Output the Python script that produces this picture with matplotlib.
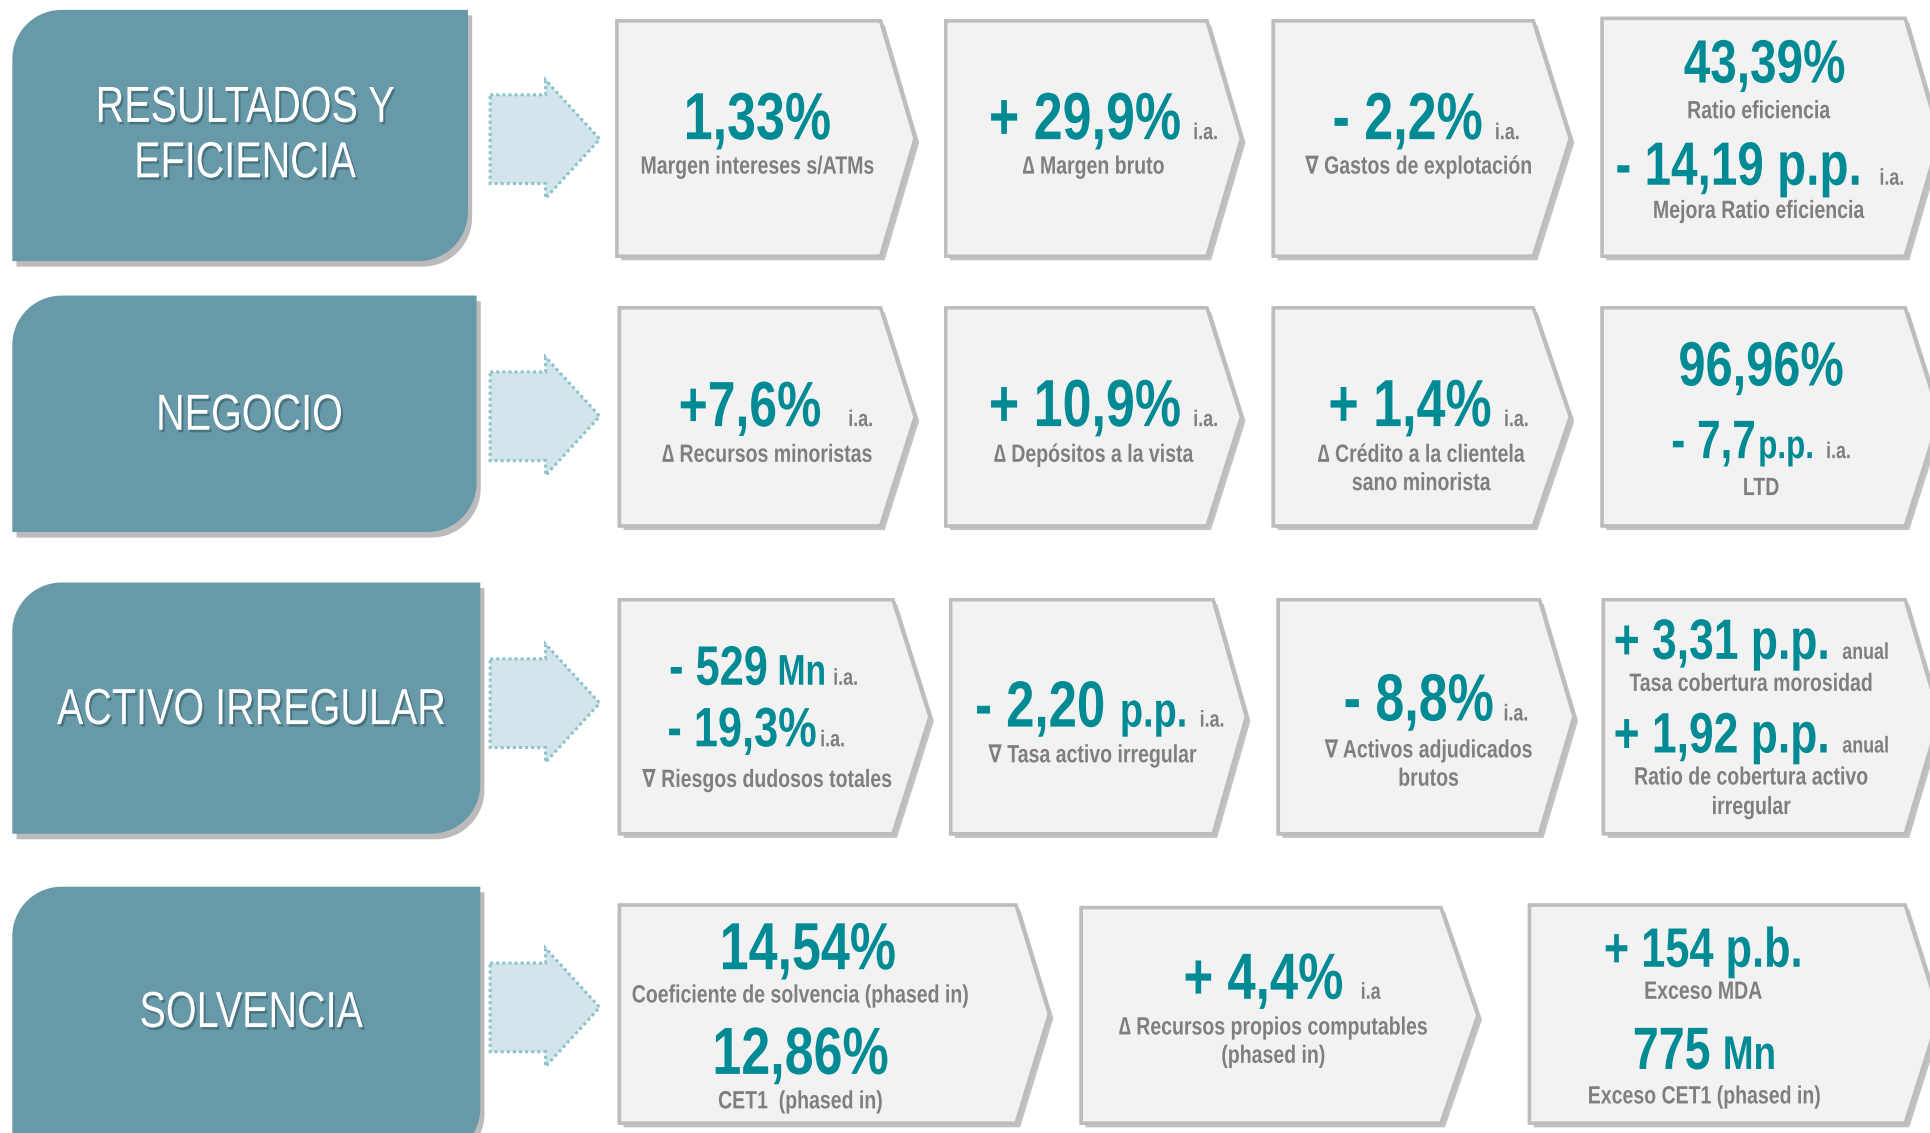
import matplotlib
matplotlib.use("Agg")
import numpy as np
import matplotlib.pyplot as plt
from matplotlib.patches import Polygon
from matplotlib.transforms import Affine2D, Bbox
from matplotlib.colors import to_rgba
import matplotlib.patheffects as pe

# ---- data -------------------------------------------------------------
titles = ["RESULTADOS Y\nEFICIENCIA", "NEGOCIO", "ACTIVO IRREGULAR", "SOLVENCIA"]

res_values = ["1,33%", "+ 29,9%", "- 2,2%", "43,39%", "- 14,19 p.p."]
res_labels = ["Margen intereses s/ATMs", "\u2206 Margen bruto", "\u2207 Gastos de explotación",
              "Ratio eficiencia", "Mejora Ratio eficiencia"]

neg_values = ["+7,6%", "+ 10,9%", "+ 1,4%", "96,96%", "- 7,7"]
neg_labels = ["\u2206 Recursos minoristas", "\u2206 Depósitos a la vista",
              "\u2206 Crédito a la clientela", "sano minorista", "LTD"]

act_values = ["- 529", "- 19,3%", "- 2,20", "- 8,8%", "+ 3,31 p.p.", "+ 1,92 p.p."]
act_labels = ["\u2207 Riesgos dudosos totales", "\u2207 Tasa activo irregular",
              "\u2207 Activos adjudicados", "brutos", "Tasa cobertura morosidad",
              "Ratio de cobertura activo", "irregular"]

sol_values = ["14,54%", "12,86%", "+ 4,4%", "+ 154 p.b.", "775"]
sol_labels = ["Coeficiente de solvencia (phased in)", "CET1  (phased in)",
              "\u2206 Recursos propios computables", "(phased in)", "Exceso MDA",
              "Exceso CET1 (phased in)"]

# ---- style ------------------------------------------------------------
TEAL = "#008A94"
GRAY = "#7F7F7F"
TAB = "#6799A8"
CARD = "#F2F2F2"
EDGE = "#BDBDBD"
FONT = ["Liberation Sans", "DejaVu Sans"]
SX = 0.78  # horizontal squeeze -> narrow look (no narrow font installed)

W, H = 1568, 920
fig = plt.figure(figsize=(19.31, 11.33), dpi=100)
ax = fig.add_axes([0, 0, 1, 1])
ax.set_xlim(0, W)
ax.set_ylim(H, 0)
ax.axis("off")
rend = fig.canvas.get_renderer()
px_per_unit = 1931 / W


class Squeeze(pe.AbstractPathEffect):
    """Draw text squeezed horizontally around x0 (display px), optional shadow."""

    def __init__(self, x0, sx=SX, shadow=None):
        super().__init__()
        self.x0 = x0
        self.sx = sx
        self.shadow = shadow

    def draw_path(self, renderer, gc, tpath, affine, rgbFace=None):
        aff = affine + Affine2D().translate(-self.x0, 0).scale(self.sx, 1).translate(self.x0, 0)
        if self.shadow is not None:
            col, alpha, dx, dy = self.shadow
            gc0 = renderer.new_gc()
            gc0.copy_properties(gc)
            gc0.set_foreground(col)
            gc0.set_alpha(alpha)
            rgba = to_rgba(col, alpha)
            renderer.draw_path(gc0, tpath, aff + Affine2D().translate(dx, dy), rgba)
            gc0.restore()
        renderer.draw_path(gc, tpath, aff, rgbFace)


def squeeze_text(t, x0):
    # narrow glyphs + matching extent
    t.set_path_effects([Squeeze(x0, shadow=getattr(t, "_shadow", None))])
    orig = t.get_window_extent

    def ext(renderer=None, dpi=None):
        bb = orig(renderer, dpi)
        return Bbox([[x0 + (bb.x0 - x0) * SX, bb.y0], [x0 + (bb.x1 - x0) * SX, bb.y1]])
    t.get_window_extent = ext


def xpix(x):
    return ax.transData.transform((x, 0))[0]


def tab(x0, y0, x1, y1, r=40):
    t1 = np.linspace(np.pi, 1.5 * np.pi, 20)
    t2 = np.linspace(0, 0.5 * np.pi, 20)
    pts = [(x0 + r + r * np.cos(t), y0 + r + r * np.sin(t)) for t in t1]
    pts += [(x1, y0)]
    pts += [(x1 - r + r * np.cos(t), y1 - r + r * np.sin(t)) for t in t2]
    pts += [(x0, y1)]
    p = Polygon(pts, closed=True, fc=TAB, ec="none", zorder=2,
                path_effects=[pe.withSimplePatchShadow(offset=(3, -4), shadow_rgbFace="#555555", alpha=0.4)])
    ax.add_patch(p)


def arrow(c):
    pts = [(398, c - 36), (443, c - 36), (443, c - 48), (487, c), (443, c + 48), (443, c + 36), (398, c + 36)]
    ax.add_patch(Polygon(pts, closed=True, fc="#D3E5EA", ec="#8CC4CC", lw=2.2, ls=(0, (1, 1)), zorder=2))


def card(x0, x1, xt, y0, y1):
    ym = (y0 + y1) / 2
    pts = [(x0, y0), (x1, y0), (xt, ym), (x1, y1), (x0, y1)]
    ax.add_patch(Polygon(pts, closed=True, fc=CARD, ec=EDGE, lw=2.5, zorder=2, joinstyle="miter",
                         path_effects=[pe.withSimplePatchShadow(offset=(3, -3), shadow_rgbFace="#9a9a9a", alpha=0.6),
                                       pe.Normal()]))


def line(cx, base, runs):
    # runs: (text, size, color, gap_before)
    objs, widths = [], []
    for txt, size, col, gap in runs:
        t = ax.text(0, base, txt, fontsize=size, color=col, fontweight="bold", family=FONT,
                    ha="left", va="baseline", zorder=5)
        objs.append(t)
        widths.append(t.get_window_extent(rend).width / px_per_unit * SX)
    total = sum(widths) + sum(r[3] for r in runs)
    x = cx - total / 2
    for t, w, r in zip(objs, widths, runs):
        x += r[3]
        t.set_x(x)
        squeeze_text(t, xpix(x))
        x += w


BIG = 48
LAB = 18
IA = 16.5

# ---- left tabs and arrows --------------------------------------------
tab_boxes = [(10, 8, 380, 212), (10, 240, 387, 432), (10, 473, 390, 677), (10, 720, 390, 940)]
arrow_c = [113, 338, 571, 818]
title_y = [(88, 133), (338,), (577,), (823,)]
for (x0, y0, x1, y1), c, ty, ttl in zip(tab_boxes, arrow_c, title_y, titles):
    tab(x0, y0, x1, y1)
    arrow(c)
    cx = (x0 + x1) / 2 + 4
    for yy, part in zip(ty, ttl.split("\n")):
        t = ax.text(cx, yy, part, fontsize=36.5, color="white", family=FONT, ha="center", va="center",
                    zorder=5)
        t._shadow = ("#2f5560", 0.55, 2, -2.5)
        squeeze_text(t, xpix(cx))

# ---- cards -------------------------------------------------------------
for shape in [(501, 715, 743, 17, 208), (768, 980, 1008, 17, 208), (1034, 1245, 1275, 17, 208),
              (1301, 1547, 1575, 15, 208),
              (503, 715, 743, 250, 427), (768, 980, 1008, 250, 427), (1034, 1245, 1275, 250, 427),
              (1301, 1547, 1575, 250, 427),
              (503, 725, 755, 487, 677), (772, 985, 1012, 487, 677), (1038, 1250, 1278, 487, 677),
              (1302, 1547, 1575, 487, 677),
              (503, 825, 852, 735, 912), (878, 1170, 1200, 737, 912), (1242, 1547, 1575, 735, 912)]:
    card(*shape)

# row 1
line(615, 113, [(res_values[0], BIG, TEAL, 0)])
line(615, 141, [(res_labels[0], LAB, GRAY, 0)])
line(896, 113, [(res_values[1], BIG, TEAL, 0), ("i.a.", IA, GRAY, 10)])
line(888, 141, [(res_labels[1], LAB, GRAY, 0)])
line(1158, 113, [(res_values[2], BIG, TEAL, 0), ("i.a.", IA, GRAY, 10)])
line(1152, 141, [(res_labels[2], LAB, GRAY, 0)])
line(1433, 67, [(res_values[3], 44, TEAL, 0)])
line(1428, 96, [(res_labels[3], LAB, GRAY, 0)])
line(1429, 150, [(res_values[4], 44, TEAL, 0), ("i.a.", IA, GRAY, 14)])
line(1428, 177, [(res_labels[4], LAB, GRAY, 0)])

# row 2
line(630, 346, [(neg_values[0], 46, TEAL, 0), ("i.a.", IA, GRAY, 22)])
line(623, 375, [(neg_labels[0], LAB, GRAY, 0)])
line(896, 346, [(neg_values[1], BIG, TEAL, 0), ("i.a.", IA, GRAY, 10)])
line(888, 375, [(neg_labels[1], LAB, GRAY, 0)])
line(1160, 346, [(neg_values[2], BIG, TEAL, 0), ("i.a.", IA, GRAY, 10)])
line(1154, 375, [(neg_labels[2], LAB, GRAY, 0)])
line(1154, 398, [(neg_labels[3], LAB, GRAY, 0)])
line(1430, 313, [(neg_values[3], 45, TEAL, 0)])
line(1430, 372, [(neg_values[4], 39, TEAL, 0), ("p.p.", 29, TEAL, 2), ("i.a.", IA, GRAY, 10)])
line(1430, 402, [(neg_labels[4], LAB, GRAY, 0)])

# row 3
line(620, 556, [(act_values[0], 40, TEAL, 0), ("Mn", 31, TEAL, 8), ("i.a.", IA, GRAY, 6)])
line(614, 606, [(act_values[1], 40, TEAL, 0), ("i.a.", IA, GRAY, 3)])
line(623, 639, [(act_labels[0], LAB, GRAY, 0)])
line(893, 590, [(act_values[2], 47, TEAL, 0), ("p.p.", 35, TEAL, 12), ("i.a.", IA, GRAY, 10)])
line(887, 619, [(act_labels[1], LAB, GRAY, 0)])
line(1166, 585, [(act_values[3], BIG, TEAL, 0), ("i.a.", IA, GRAY, 8)])
line(1160, 615, [(act_labels[2], LAB, GRAY, 0)])
line(1160, 638, [(act_labels[3], LAB, GRAY, 0)])
line(1422, 535, [(act_values[4], 41, TEAL, 0), ("anual", IA, GRAY, 10)])
line(1422, 561, [(act_labels[4], LAB, GRAY, 0)])
line(1422, 611, [(act_values[5], 41, TEAL, 0), ("anual", IA, GRAY, 10)])
line(1422, 637, [(act_labels[5], LAB, GRAY, 0)])
line(1422, 661, [(act_labels[6], LAB, GRAY, 0)])

# row 4
line(656, 787, [(sol_values[0], BIG, TEAL, 0)])
line(650, 814, [(sol_labels[0], LAB, GRAY, 0)])
line(650, 872, [(sol_values[1], BIG, TEAL, 0)])
line(650, 900, [(sol_labels[1], LAB, GRAY, 0)])
line(1041, 811, [(sol_values[2], 47, TEAL, 0), ("i.a", IA, GRAY, 14)])
line(1034, 840, [(sol_labels[2], LAB, GRAY, 0)])
line(1034, 863, [(sol_labels[3], LAB, GRAY, 0)])
line(1383, 785, [(sol_values[3], 40, TEAL, 0)])
line(1383, 811, [(sol_labels[4], LAB, GRAY, 0)])
line(1384, 868, [(sol_values[4], 43, TEAL, 0), ("Mn", 34, TEAL, 10)])
line(1384, 896, [(sol_labels[5], LAB, GRAY, 0)])

fig.savefig("out.png", dpi=100, facecolor="white")
